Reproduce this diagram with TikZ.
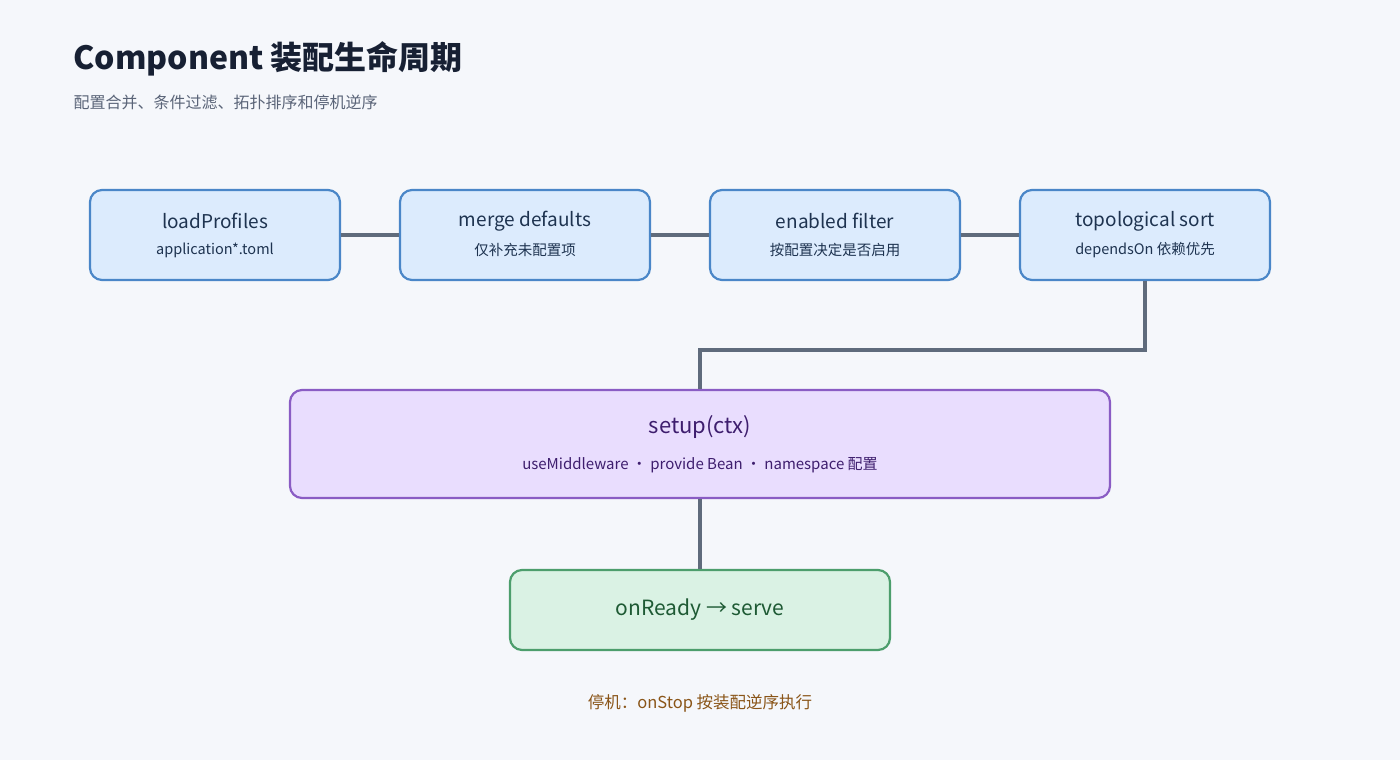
\documentclass[tikz,border=0pt]{standalone}
\usepackage{fontspec}
\setmainfont{Noto Sans CJK SC}
\definecolor{bg}{HTML}{F5F7FB}
\definecolor{bfill}{HTML}{DCEBFD}
\definecolor{bdraw}{HTML}{4A86C8}
\definecolor{btext}{HTML}{1E3350}
\definecolor{pfill}{HTML}{E9DDFE}
\definecolor{pdraw}{HTML}{8A5CC4}
\definecolor{ptext}{HTML}{3E1E6E}
\definecolor{gfill}{HTML}{DAF2E4}
\definecolor{gdraw}{HTML}{4C9E6C}
\definecolor{gtext}{HTML}{1E5A34}
\definecolor{line}{HTML}{5F6B7C}
\definecolor{titlec}{HTML}{172033}
\definecolor{subc}{HTML}{5A6478}
\definecolor{footc}{HTML}{8A5518}
\begin{document}
\begin{tikzpicture}[x=1pt,y=-1pt,
  box/.style={rounded corners=12pt,line width=2.2pt,align=center,inner sep=0pt},
  bluebox/.style={box,draw=bdraw,fill=bfill,text=btext,minimum width=250pt,minimum height=90pt},
  conn/.style={draw=line,line width=3.5pt}]
\fill[bg] (0,0) rectangle (1400,760);
\useasboundingbox (0,0) rectangle (1400,760);
\node[anchor=base west,font=\bfseries\fontsize{32}{36}\selectfont,text=titlec] (title) at (70,70) {Component 装配生命周期};
\node[anchor=base west,font=\fontsize{16}{20}\selectfont,text=subc] (sub) at (70,108) {配置合并、条件过滤、拓扑排序和停机逆序};
\foreach \n/\x/\t/\s in {a/215/loadProfiles/application*.toml, b/525/merge defaults/仅补充未配置项, c/835/enabled filter/按配置决定是否启用, d/1145/topological sort/dependsOn 依赖优先}{
  \node[bluebox] (\n) at (\x,235) {};
  \node[text=btext,font=\fontsize{19}{22}\selectfont] at (\x,221) {\t};
  \node[text=btext,font=\fontsize{14.5}{18}\selectfont] at (\x,250) {\s};
}
\node[box,draw=pdraw,fill=pfill,minimum width=820pt,minimum height=108pt] (s) at (700,444) {};
\node[text=ptext,font=\fontsize{22}{26}\selectfont] (st) at (700,427) {setup(ctx)};
\node[text=ptext,font=\fontsize{15}{18}\selectfont] (ss) at (700,465) {useMiddleware · provide Bean · namespace 配置};
\node[box,draw=gdraw,fill=gfill,text=gtext,minimum width=380pt,minimum height=80pt,font=\fontsize{21}{24}\selectfont] (r) at (700,610) {onReady → serve};
\node[text=footc,font=\fontsize{16.5}{20}\selectfont] (f) at (700,703) {停机：onStop 按装配逆序执行};
\coordinate (m1) at (1145,350);
\coordinate (m2) at (700,350);
\begin{scope}[on background layer/.try]
\end{scope}
\draw[conn] (a.east) -- (b.west);
\draw[conn] (b.east) -- (c.west);
\draw[conn] (c.east) -- (d.west);
\draw[conn] (d.south) -- (m1) -- (m2) -- (s.north);
\draw[conn] (s.south) -- (r.north);
\end{tikzpicture}
\end{document}
